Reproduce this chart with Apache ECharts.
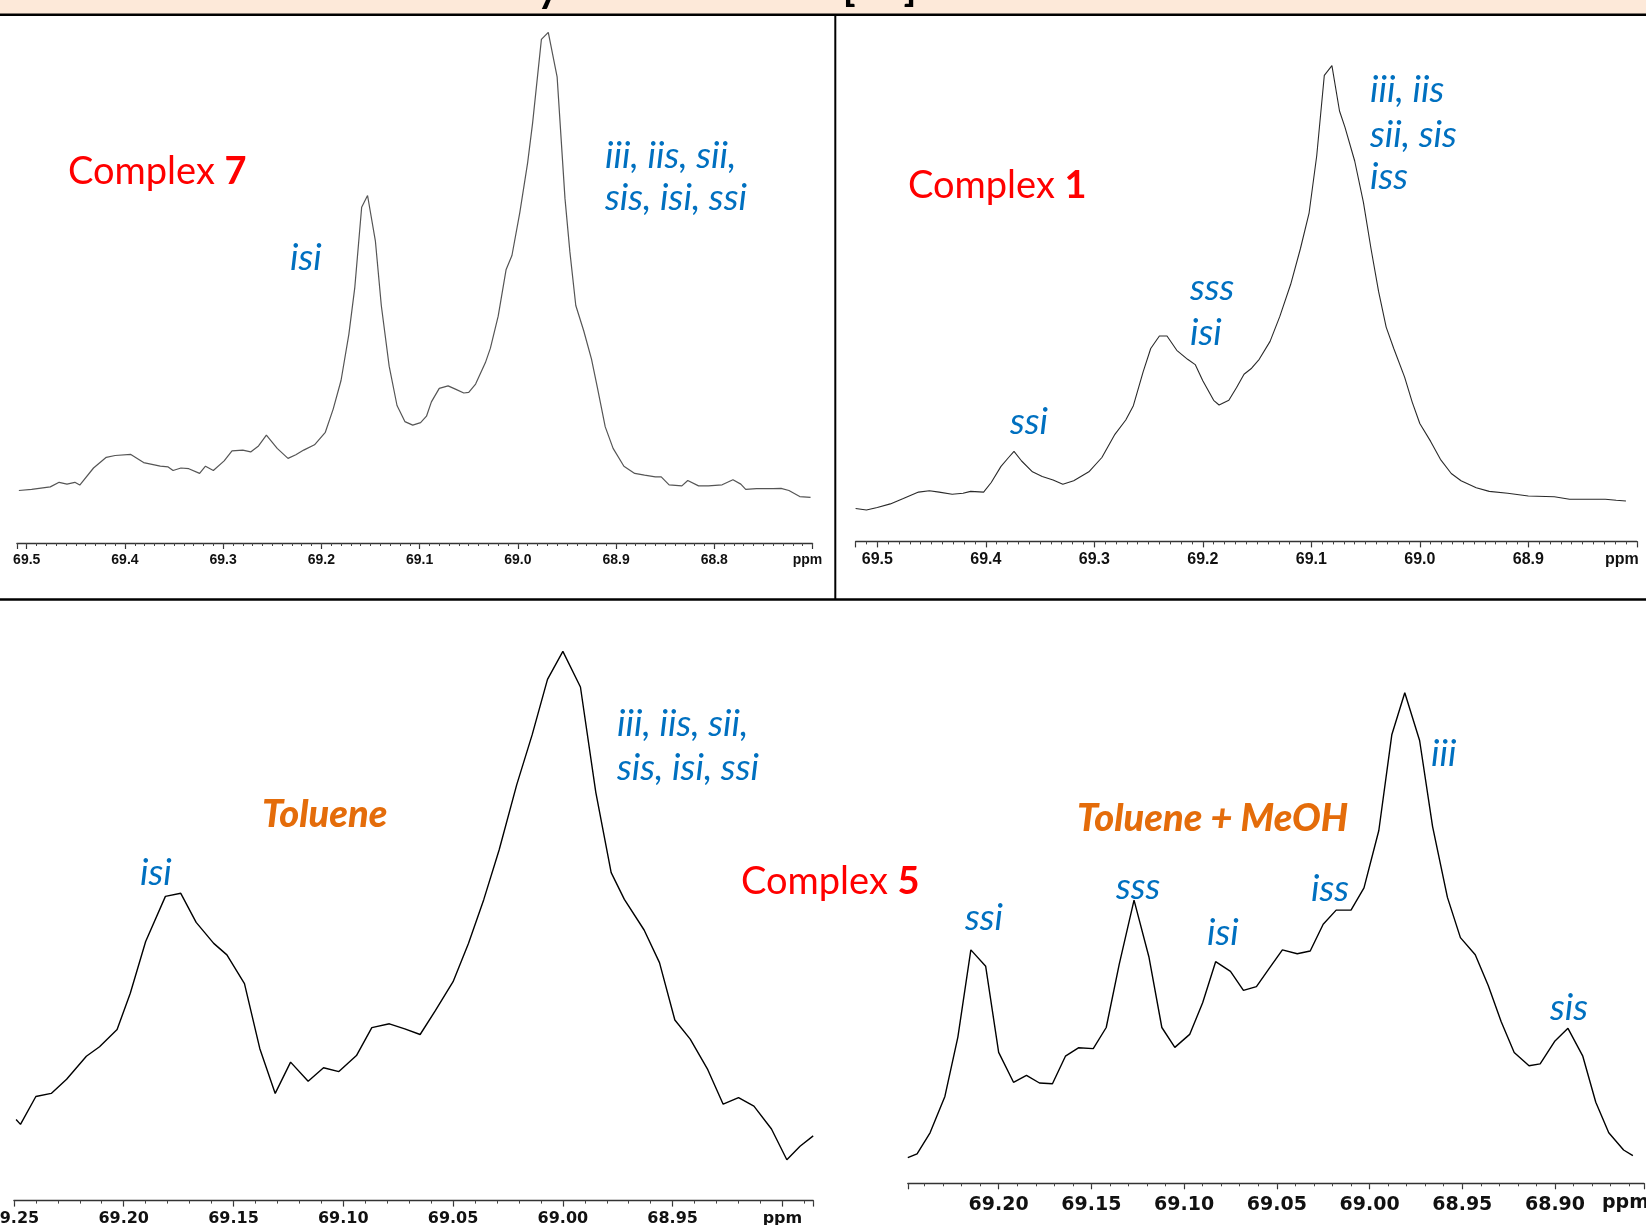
<!DOCTYPE html>
<html>
<head>
<meta charset="utf-8">
<script src="https://cdn.jsdelivr.net/npm/echarts@6/dist/echarts.min.js"></script>
<style>
html,body{margin:0;padding:0;background:#fff;}
#c{width:1646px;height:1225px;}
</style>
</head>
<body>
<div id="c"></div>
<script>
// ---- Data: [chemical shift (ppm), relative intensity] ----
const complex7 = [[69.508,52.5],[69.495,53.6],[69.476,56.1],[69.467,60.7],[69.459,58.9],[69.451,60.7],[69.446,57.9],[69.432,75.0],[69.419,85.7],[69.410,87.5],[69.394,88.6],[69.381,80.4],[69.364,76.8],[69.356,76.1],[69.351,72.5],[69.343,75.0],[69.335,74.3],[69.324,69.6],[69.318,76.8],[69.310,72.5],[69.299,82.1],[69.291,92.1],[69.280,92.9],[69.272,91.1],[69.264,97.1],[69.256,107.9],[69.245,94.6],[69.234,84.6],[69.226,88.2],[69.218,92.9],[69.207,98.2],[69.196,110.7],[69.188,133.9],[69.180,162.5],[69.172,208.9],[69.166,255.4],[69.159,335.7],[69.153,347.5],[69.145,301.8],[69.139,237.5],[69.131,176.8],[69.123,137.5],[69.115,121.4],[69.107,117.9],[69.099,120.4],[69.093,126.8],[69.088,141.1],[69.080,154.6],[69.071,157.1],[69.063,153.6],[69.055,150.0],[69.050,150.7],[69.043,158.9],[69.033,180.4],[69.028,194.6],[69.020,226.8],[69.012,273.2],[69.006,287.5],[68.998,330.4],[68.990,380.4],[68.985,419.6],[68.976,503.6],[68.969,510.7],[68.960,466.1],[68.952,344.6],[68.947,291.1],[68.941,237.5],[68.933,212.5],[68.925,183.9],[68.919,155.4],[68.911,116.1],[68.903,94.6],[68.892,76.8],[68.881,69.6],[68.871,67.9],[68.860,66.1],[68.854,66.1],[68.846,58.2],[68.833,57.1],[68.827,62.5],[68.825,64.3],[68.816,57.1],[68.806,57.1],[68.792,58.2],[68.781,63.2],[68.773,58.9],[68.768,53.6],[68.757,54.3],[68.740,54.3],[68.732,54.6],[68.724,52.5],[68.713,46.4],[68.702,45.7]];

const complex1 = [[69.520,32.9],[69.510,31.4],[69.500,33.9],[69.488,37.5],[69.476,42.9],[69.462,49.3],[69.452,50.7],[69.443,49.3],[69.431,47.1],[69.421,48.2],[69.414,50.0],[69.402,49.3],[69.395,58.9],[69.386,75.0],[69.379,83.9],[69.374,90.0],[69.367,80.4],[69.357,69.6],[69.348,65.0],[69.338,61.4],[69.329,57.1],[69.319,60.7],[69.305,69.6],[69.293,83.9],[69.281,107.1],[69.271,121.4],[69.264,135.7],[69.255,169.6],[69.248,192.9],[69.240,205.4],[69.233,205.4],[69.224,191.1],[69.214,182.1],[69.207,176.8],[69.200,160.7],[69.190,141.1],[69.185,136.4],[69.176,141.1],[69.169,153.6],[69.162,167.1],[69.155,173.2],[69.148,182.1],[69.138,200.0],[69.129,225.0],[69.119,257.1],[69.110,292.9],[69.102,328.6],[69.095,385.7],[69.088,466.1],[69.081,475.7],[69.074,430.4],[69.069,414.3],[69.060,380.4],[69.052,339.3],[69.045,292.9],[69.038,250.0],[69.031,214.3],[69.024,192.9],[69.014,164.3],[69.007,139.3],[69.000,117.9],[68.990,100.0],[68.981,82.1],[68.971,67.9],[68.962,60.7],[68.948,53.6],[68.936,50.0],[68.919,48.2],[68.900,45.4],[68.876,44.6],[68.862,42.1],[68.843,42.1],[68.829,42.1],[68.819,41.1],[68.810,40.4]];

const complex5Toluene = [[69.249,81.1],[69.247,76.2],[69.240,104.1],[69.233,107.2],[69.226,121.3],[69.217,144.3],[69.211,153.8],[69.203,171.1],[69.197,207.4],[69.190,259.1],[69.181,304.2],[69.174,307.3],[69.167,278.2],[69.159,257.2],[69.153,245.7],[69.145,217.0],[69.138,151.9],[69.131,107.2],[69.124,138.5],[69.116,119.4],[69.109,132.8],[69.102,129.0],[69.094,145.0],[69.087,173.0],[69.079,176.8],[69.072,171.8],[69.065,166.1],[69.058,190.2],[69.050,218.9],[69.043,257.2],[69.036,301.2],[69.029,350.9],[69.021,416.0],[69.014,465.7],[69.007,521.2],[69.000,549.2],[68.992,513.6],[68.985,408.3],[68.978,328.0],[68.972,301.2],[68.963,270.6],[68.956,238.0],[68.949,180.6],[68.942,161.5],[68.934,130.9],[68.927,96.4],[68.920,102.9],[68.913,94.5],[68.905,71.6],[68.898,40.9],[68.892,54.3],[68.886,64.7]];

const complex5MeOH = [[69.249,25.6],[69.244,29.5],[69.237,50.5],[69.229,86.9],[69.222,146.2],[69.215,233.4],[69.207,217.0],[69.200,130.9],[69.192,101.0],[69.185,107.9],[69.178,100.3],[69.171,99.5],[69.164,127.1],[69.157,135.5],[69.149,134.7],[69.142,155.8],[69.135,218.9],[69.127,283.2],[69.119,226.6],[69.112,155.8],[69.105,135.9],[69.097,148.9],[69.090,180.6],[69.083,221.6],[69.075,212.0],[69.068,192.9],[69.061,196.7],[69.054,215.1],[69.047,233.4],[69.039,229.6],[69.032,232.3],[69.025,259.1],[69.018,273.2],[69.010,273.2],[69.003,295.4],[68.995,352.8],[68.988,448.5],[68.981,490.6],[68.973,442.8],[68.966,356.7],[68.958,285.9],[68.951,245.7],[68.943,228.5],[68.936,197.9],[68.929,161.5],[68.922,130.9],[68.914,117.5],[68.908,119.4],[68.900,142.4],[68.893,155.0],[68.885,127.1],[68.878,81.1],[68.871,50.5],[68.863,33.3],[68.858,27.6]];

// axis ranges (ppm) and tick steps
const axisMin = [68.70, 68.80, 68.886, 68.852];
const axisMax = [69.51, 69.52, 69.25, 69.249];
const majorStep = [0.1, 0.1, 0.05, 0.05];
const ppmTick = [68.7, 68.8, 68.9, null];   // tick position that carries the "ppm" unit label

// ---- layout ----
const grids = [
  {left:16.9, top:23,    width:795.6, height:520},
  {left:855.6, top:41.4, width:781.2, height:500},
  {left:13.9, top:620.6, width:799.3, height:580},
  {left:907.8, top:643.3, width:736.2, height:540}
];
const labelFont = [
  {fontFamily:'"Liberation Sans", Arial, sans-serif', fontSize:14, margin:10, pad:10},
  {fontFamily:'"Liberation Sans", Arial, sans-serif', fontSize:16, margin:10, pad:30},
  {fontFamily:'"DejaVu Sans", sans-serif', fontSize:16, margin:10, pad:0},
  {fontFamily:'"DejaVu Sans", sans-serif', fontSize:19, margin:12, pad:0}
];
const lineStyles = [
  {color:'#555', width:1.2},
  {color:'#2a2a2a', width:1.1},
  {color:'#000', width:1.4},
  {color:'#000', width:1.4}
];
const seriesData = [complex7, complex1, complex5Toluene, complex5MeOH];

function makeFormatter(i){
  const step = majorStep[i];
  const dec = step === 0.1 ? 1 : 2;
  return function(v){
    const k = Math.round(v * 100);
    if (Math.abs(v * 100 - k) > 0.01) return '';
    if (k % Math.round(step * 100) !== 0) return '';
    if (ppmTick[i] !== null && Math.abs(v - ppmTick[i]) < 1e-6) return '{p|ppm}';
    return (k / 100).toFixed(dec);
  };
}

const gridOpt = [], xAxes = [], yAxes = [], series = [];
for (let i = 0; i < 4; i++) {
  gridOpt.push(Object.assign({containLabel:false, outerBoundsMode:'none'}, grids[i]));
  yAxes.push({type:'value', gridIndex:i, min:0, max:grids[i].height, show:false});
  const lf = labelFont[i];
  const x = {
    type:'value', gridIndex:i, inverse:true, min:axisMin[i], max:axisMax[i],
    axisLine:{show:true, onZero:false, lineStyle:{color:'#333', width:1.3}},
    axisTick:{show:true, length:6, lineStyle:{color:'#333', width:1.2}},
    splitLine:{show:false},
    axisLabel:{
      margin:lf.margin, fontFamily:lf.fontFamily, fontSize:lf.fontSize, fontWeight:'bold', color:'#111',
      formatter: makeFormatter(i), showMinLabel:true, showMaxLabel:true,
      rich:{p:{fontFamily:lf.fontFamily, fontSize:lf.fontSize, fontWeight:'bold', color:'#111', padding:[0, lf.pad, 0, 0]}}
    }
  };
  if (i < 2) x.interval = majorStep[i]; else { x.minInterval = majorStep[i]; x.maxInterval = majorStep[i]; }
  xAxes.push(x);
  series.push({
    type:'line', xAxisIndex:i, yAxisIndex:i, data:seriesData[i], showSymbol:false, symbol:'none',
    lineStyle:lineStyles[i], animation:false, silent:true
  });
}
// minor-tick axes (0.01 ppm) on overlaid grids
for (let i = 0; i < 4; i++) {
  const g = 4 + i;
  gridOpt.push(Object.assign({containLabel:false, outerBoundsMode:'none'}, grids[i]));
  yAxes.push({type:'value', gridIndex:g, min:0, max:1, show:false});
  const x = {
    type:'value', gridIndex:g, inverse:true, min:axisMin[i], max:axisMax[i],
    axisLine:{show:false, onZero:false}, axisLabel:{show:false}, splitLine:{show:false},
    axisTick:{show:true, length:3, lineStyle:{color:'#444', width:1}}
  };
  if (i < 2) x.interval = 0.01; else { x.minInterval = 0.01; x.maxInterval = 0.01; }
  xAxes.push(x);
}

// ---- annotations ----
const BLUE = '#0070C0', RED = '#FF0000', ORANGE = '#E46C0A';
function blue(t, x, y){ return {type:'text', x:x, y:y, z:10, style:{text:t, fill:BLUE, font:'italic 37px Lato', align:'left', verticalAlign:'middle'}}; }
function complexLabel(n, x, y){
  return {type:'text', x:x, y:y, z:10, style:{text:'{a|Complex }{b|' + n + '}', fill:RED, font:'38px Lato', align:'left', verticalAlign:'middle',
    rich:{a:{fill:RED, fontFamily:'Lato', fontSize:38}, b:{fill:RED, fontFamily:'Lato', fontSize:38, fontWeight:'bold'}}}};
}
function solvent(t, x, y){ return {type:'text', x:x, y:y, z:10, style:{text:t, fill:ORANGE, font:'italic 900 38px Lato', align:'left', verticalAlign:'middle'}}; }

const graphics = [
  {type:'rect', shape:{x:0, y:0, width:1646, height:14}, style:{fill:'#FDE9D9'}, z:1},
  {type:'text', x:548, y:9, z:2, style:{text:'y', fill:'#000', font:'bold 42px Lato', align:'center', verticalAlign:'bottom'}},
  {type:'text', x:849, y:8, z:2, style:{text:'[', fill:'#000', font:'bold 42px Lato', align:'center', verticalAlign:'bottom'}},
  {type:'text', x:910, y:8, z:2, style:{text:']', fill:'#000', font:'bold 42px Lato', align:'center', verticalAlign:'bottom'}},
  {type:'rect', shape:{x:0, y:13.5, width:1646, height:2.5}, style:{fill:'#000'}, z:3},
  {type:'rect', shape:{x:834.3, y:15, width:2, height:585}, style:{fill:'#000'}, z:3},
  {type:'rect', shape:{x:0, y:598.3, width:1646, height:2.4}, style:{fill:'#000'}, z:3},
  // top-left
  complexLabel('7', 68, 172),
  blue('isi', 290, 258),
  blue('iii, iis, sii,', 605, 156),
  blue('sis, isi, ssi', 605, 198),
  // top-right
  complexLabel('1', 908, 186),
  blue('iii, iis', 1370, 90),
  blue('sii, sis', 1370, 135),
  blue('iss', 1370, 177),
  blue('sss', 1190, 288),
  blue('isi', 1190, 333),
  blue('ssi', 1010, 422),
  // bottom-left
  solvent('Toluene', 262, 815),
  blue('isi', 140, 873),
  blue('iii, iis, sii,', 617, 724),
  blue('sis, isi, ssi', 617, 768),
  // bottom-right
  complexLabel('5', 741, 882),
  solvent('Toluene + MeOH', 1077, 819),
  blue('iii', 1431, 754),
  blue('iss', 1311, 889),
  blue('sss', 1116, 887),
  blue('ssi', 965, 918),
  blue('isi', 1207, 933),
  blue('sis', 1550, 1008),
  {type:'text', x:1602, y:1203, z:10, style:{text:'ppm', fill:'#111', font:'bold 19px "DejaVu Sans"', align:'left', verticalAlign:'middle'}}
];

const chart = echarts.init(document.getElementById('c'), null, {renderer:'canvas', width:1646, height:1225});
chart.setOption({
  backgroundColor:'#ffffff',
  animation:false,
  grid:gridOpt,
  xAxis:xAxes,
  yAxis:yAxes,
  series:series,
  graphic:graphics
});
</script>
</body>
</html>
